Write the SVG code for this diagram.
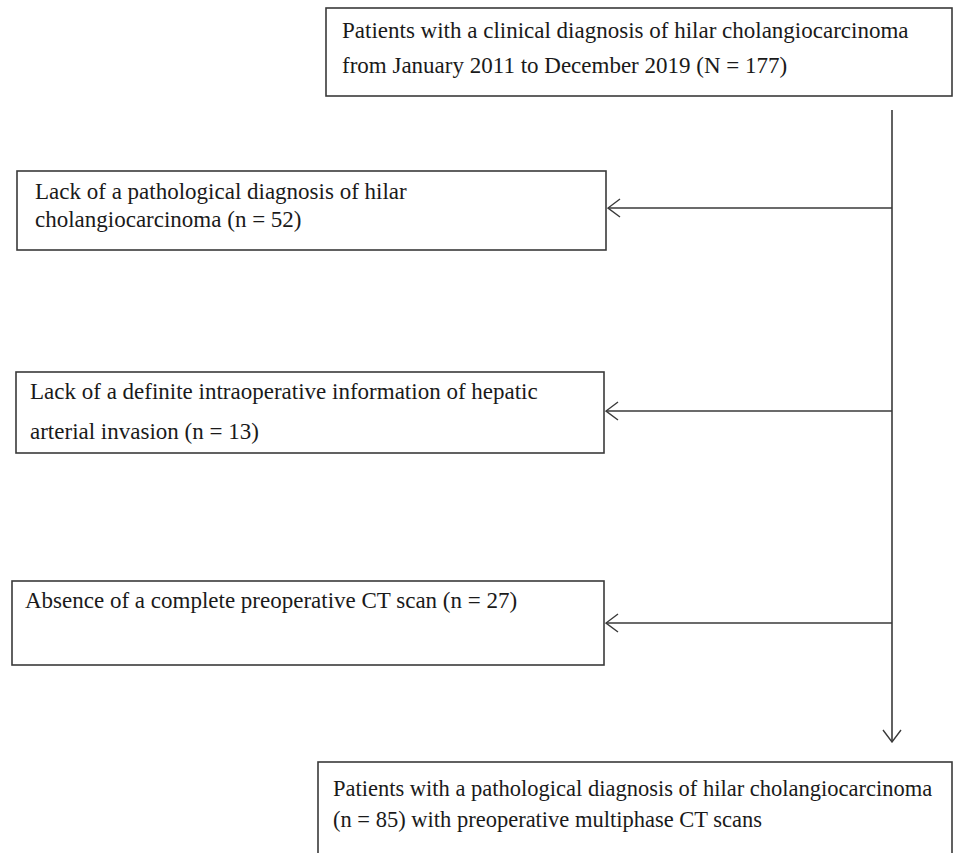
<svg xmlns="http://www.w3.org/2000/svg" width="956" height="853" viewBox="0 0 956 853">
<style>
.box{fill:#fff;stroke:#3a3a3a;stroke-width:1.6}
.t{font-family:"Liberation Serif","Times New Roman",serif;font-size:23px;fill:#1a1a1a}
.s{font-size:22.5px}
.c{stroke:#3a3a3a;stroke-width:1.6;fill:none}
</style>
<defs>
<marker id="ah" viewBox="0 0 14 20" refX="13" refY="10" markerWidth="14" markerHeight="20" markerUnits="userSpaceOnUse" orient="auto">
<path d="M1,1 L13,10 L1,19" fill="none" stroke="#3a3a3a" stroke-width="1.4"/>
</marker>
</defs>
<rect width="956" height="853" fill="#fff"/>
<g id="connectors">
<line class="c" x1="892" y1="110" x2="892" y2="742" marker-end="url(#ah)"/>
<line class="c" x1="892" y1="208" x2="608" y2="208" marker-end="url(#ah)"/>
<line class="c" x1="892" y1="411" x2="606" y2="411" marker-end="url(#ah)"/>
<line class="c" x1="892" y1="623" x2="606" y2="623" marker-end="url(#ah)"/>
</g>
<g id="start">
<rect class="box" x="326" y="8" width="626" height="88"/>
<text class="t" x="342" y="38">Patients with a clinical diagnosis of hilar cholangiocarcinoma</text>
<text class="t" x="342" y="73">from January 2011 to December 2019 (N = 177)</text>
</g>
<g id="excl1">
<rect class="box" x="17" y="171" width="589" height="79"/>
<text class="t" x="35" y="199">Lack of a pathological diagnosis of hilar</text>
<text class="t" x="35" y="227">cholangiocarcinoma (n = 52)</text>
</g>
<g id="excl2">
<rect class="box" x="16" y="372" width="588" height="81"/>
<text class="t" x="30" y="399">Lack of a definite intraoperative information of hepatic</text>
<text class="t" x="30" y="439">arterial invasion (n = 13)</text>
</g>
<g id="excl3">
<rect class="box" x="12" y="581" width="592" height="84"/>
<text class="t" x="25" y="608">Absence of a complete preoperative CT scan (n = 27)</text>
</g>
<g id="final">
<rect class="box" x="318" y="762" width="634" height="100"/>
<text class="t s" x="333" y="796">Patients with a pathological diagnosis of hilar cholangiocarcinoma</text>
<text class="t s" x="333" y="827">(n = 85) with preoperative multiphase CT scans</text>
</g>
</svg>
